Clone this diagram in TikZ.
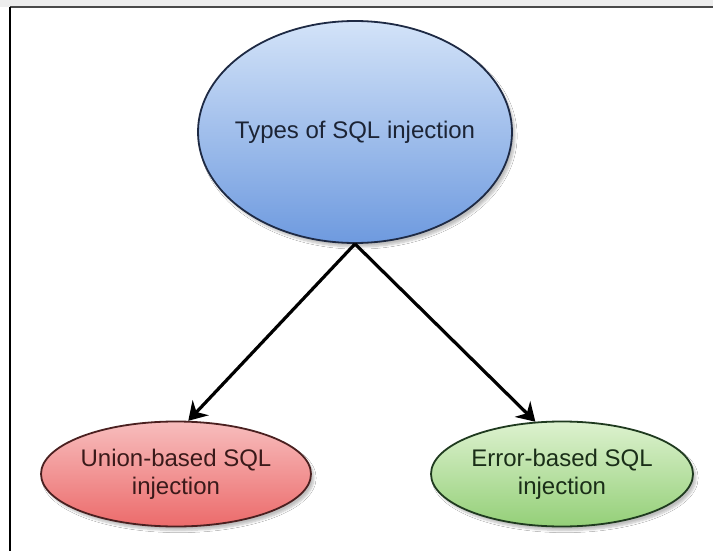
\documentclass[tikz,border=0pt]{standalone}
\usepackage{fontspec}
\setmainfont{Liberation Sans}
\usetikzlibrary{arrows.meta,shadows.blur,shapes.geometric}

\definecolor{blueTxt}{HTML}{1C2435}
\definecolor{redTxt}{HTML}{3A1A1A}
\definecolor{greenTxt}{HTML}{1A2E18}
\definecolor{blueTop}{HTML}{D3E3F8}
\definecolor{blueBot}{HTML}{6E9ADF}
\definecolor{blueLine}{HTML}{1E2A44}
\definecolor{redTop}{HTML}{F7BDBD}
\definecolor{redBot}{HTML}{EC6B6B}
\definecolor{redLine}{HTML}{4A2020}
\definecolor{greenTop}{HTML}{DDF2CF}
\definecolor{greenBot}{HTML}{94CF78}
\definecolor{greenLine}{HTML}{1F3A1F}
\definecolor{stripGray}{HTML}{EDEDED}
\definecolor{frameGray}{HTML}{4A4A4A}

\tikzset{
  bubble/.style={ellipse, line width=1.8pt, inner xsep=-20pt, inner ysep=0pt,
    align=center, font=\fontsize{24}{28}\selectfont,
    blur shadow={shadow xshift=3pt, shadow yshift=-4pt, shadow blur steps=6, shadow opacity=25}},
  link/.style={line width=3.2pt, -{Stealth[length=18pt,width=22pt,inset=6pt]}}
}

\begin{document}
\begin{tikzpicture}[x=1pt,y=-1pt]
  \useasboundingbox (0,0) rectangle (713,551);
  \fill[white] (0,0) rectangle (713,551);
  % window strip and frame
  \fill[stripGray] (0,0) rectangle (713,7);
  \draw[frameGray, line width=2.2pt] (10,7) -- (713,7);
  \draw[black, line width=2pt] (10,7) -- (10,551);

  % nodes
  \node[bubble, minimum width=314pt, minimum height=222pt, text=blueTxt,
        draw=blueLine, top color=blueTop, bottom color=blueBot]
        (root) at (355,132) {Types of SQL injection};
  \node[bubble, minimum width=270pt, minimum height=105pt, text=redTxt,
        draw=redLine, top color=redTop, bottom color=redBot]
        (union) at (176,474) {Union-based SQL\\injection};
  \node[bubble, minimum width=262pt, minimum height=105pt, text=greenTxt,
        draw=greenLine, top color=greenTop, bottom color=greenBot]
        (error) at (562,474) {Error-based SQL\\injection};

  % connectors
  \draw[link] (root.south) -- (union.77);
  \draw[link] (root.south) -- (error.117);
\end{tikzpicture}
\end{document}
